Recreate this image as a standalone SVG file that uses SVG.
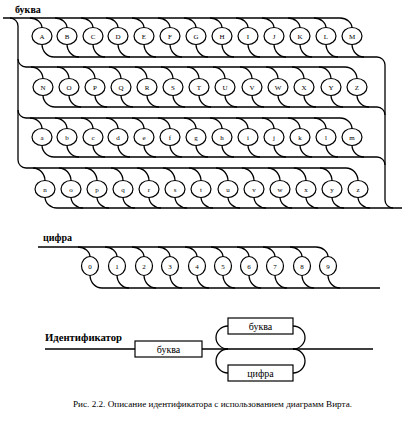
<svg xmlns="http://www.w3.org/2000/svg" width="404" height="427" viewBox="0 0 404 427">
<style>
.ln{fill:none;stroke:#000;stroke-width:1.3}
.el{fill:#fff;stroke:#000;stroke-width:1.2}
.bx{fill:#fff;stroke:#000;stroke-width:1.2}
.t{font-family:"Liberation Serif",serif;font-size:7px;text-anchor:middle;fill:#000}
.lb{font-family:"Liberation Serif",serif;font-size:10px;font-weight:bold;fill:#000}
.bt{font-family:"Liberation Serif",serif;font-size:10px;text-anchor:middle;fill:#000}
.cap{font-family:"Liberation Serif",serif;font-size:8.5px;fill:#000}
</style>
<rect width="404" height="427" fill="#fff"/>
<text class="lb" x="15" y="13">буква</text>
<text class="lb" x="43" y="241">цифра</text>
<text class="lb" x="45" y="341" textLength="77" lengthAdjust="spacingAndGlyphs">Идентификатор</text>
<text class="cap" x="73" y="407" textLength="279" lengthAdjust="spacingAndGlyphs">Рис. 2.2. Описание идентификатора с использованием диаграмм Вирта.</text>
<g id="connectors" class="ln">
<path d="M3 18H340"/>
<path d="M10 18A8 8 0 0 1 18 26V160A8 8 0 0 0 26 168H346"/>
<path d="M18 59A8 8 0 0 0 26 67H345"/>
<path d="M18 110A8 8 0 0 0 26 118H340"/>
<path d="M54 57H377A8 8 0 0 1 385 65V200A8 8 0 0 0 393 208H402"/>
<path d="M55 107H377A8 8 0 0 1 385 115"/>
<path d="M54 157H377A8 8 0 0 1 385 165"/>
<path d="M57 208H393"/>
<path d="M30 18A12 10 0 0 1 42 28M42 44A12 13 0 0 0 54 57"/>
<path d="M55 18A12 10 0 0 1 67 28M67 44A12 13 0 0 0 79 57"/>
<path d="M81 18A12 10 0 0 1 93 28M93 44A12 13 0 0 0 105 57"/>
<path d="M106 18A12 10 0 0 1 118 28M118 44A12 13 0 0 0 130 57"/>
<path d="M132 18A12 10 0 0 1 144 28M144 44A12 13 0 0 0 156 57"/>
<path d="M158 18A12 10 0 0 1 170 28M170 44A12 13 0 0 0 182 57"/>
<path d="M184 18A12 10 0 0 1 196 28M196 44A12 13 0 0 0 208 57"/>
<path d="M210 18A12 10 0 0 1 222 28M222 44A12 13 0 0 0 234 57"/>
<path d="M236 18A12 10 0 0 1 248 28M248 44A12 13 0 0 0 260 57"/>
<path d="M262 18A12 10 0 0 1 274 28M274 44A12 13 0 0 0 286 57"/>
<path d="M288 18A12 10 0 0 1 300 28M300 44A12 13 0 0 0 312 57"/>
<path d="M314 18A12 10 0 0 1 326 28M326 44A12 13 0 0 0 338 57"/>
<path d="M340 18A12 10 0 0 1 352 28M352 44A12 13 0 0 0 364 57"/>
<path d="M31 67A12 12 0 0 1 43 79M43 95A12 12 0 0 0 55 107"/>
<path d="M57 67A12 12 0 0 1 69 79M69 95A12 12 0 0 0 81 107"/>
<path d="M83 67A12 12 0 0 1 95 79M95 95A12 12 0 0 0 107 107"/>
<path d="M109 67A12 12 0 0 1 121 79M121 95A12 12 0 0 0 133 107"/>
<path d="M135 67A12 12 0 0 1 147 79M147 95A12 12 0 0 0 159 107"/>
<path d="M161 67A12 12 0 0 1 173 79M173 95A12 12 0 0 0 185 107"/>
<path d="M187 67A12 12 0 0 1 199 79M199 95A12 12 0 0 0 211 107"/>
<path d="M213 67A12 12 0 0 1 225 79M225 95A12 12 0 0 0 237 107"/>
<path d="M240 67A12 12 0 0 1 252 79M252 95A12 12 0 0 0 264 107"/>
<path d="M266 67A12 12 0 0 1 278 79M278 95A12 12 0 0 0 290 107"/>
<path d="M292 67A12 12 0 0 1 304 79M304 95A12 12 0 0 0 316 107"/>
<path d="M319 67A12 12 0 0 1 331 79M331 95A12 12 0 0 0 343 107"/>
<path d="M345 67A12 12 0 0 1 357 79M357 95A12 12 0 0 0 369 107"/>
<path d="M30 118A12 11 0 0 1 42 129M42 145A12 12 0 0 0 54 157"/>
<path d="M55 118A12 11 0 0 1 67 129M67 145A12 12 0 0 0 79 157"/>
<path d="M81 118A12 11 0 0 1 93 129M93 145A12 12 0 0 0 105 157"/>
<path d="M106 118A12 11 0 0 1 118 129M118 145A12 12 0 0 0 130 157"/>
<path d="M132 118A12 11 0 0 1 144 129M144 145A12 12 0 0 0 156 157"/>
<path d="M158 118A12 11 0 0 1 170 129M170 145A12 12 0 0 0 182 157"/>
<path d="M184 118A12 11 0 0 1 196 129M196 145A12 12 0 0 0 208 157"/>
<path d="M210 118A12 11 0 0 1 222 129M222 145A12 12 0 0 0 234 157"/>
<path d="M236 118A12 11 0 0 1 248 129M248 145A12 12 0 0 0 260 157"/>
<path d="M262 118A12 11 0 0 1 274 129M274 145A12 12 0 0 0 286 157"/>
<path d="M288 118A12 11 0 0 1 300 129M300 145A12 12 0 0 0 312 157"/>
<path d="M314 118A12 11 0 0 1 326 129M326 145A12 12 0 0 0 338 157"/>
<path d="M340 118A12 11 0 0 1 352 129M352 145A12 12 0 0 0 364 157"/>
<path d="M33 168A12 13 0 0 1 45 181M45 197A12 11 0 0 0 57 208"/>
<path d="M59 168A12 13 0 0 1 71 181M71 197A12 11 0 0 0 83 208"/>
<path d="M85 168A12 13 0 0 1 97 181M97 197A12 11 0 0 0 109 208"/>
<path d="M111 168A12 13 0 0 1 123 181M123 197A12 11 0 0 0 135 208"/>
<path d="M137 168A12 13 0 0 1 149 181M149 197A12 11 0 0 0 161 208"/>
<path d="M163 168A12 13 0 0 1 175 181M175 197A12 11 0 0 0 187 208"/>
<path d="M189 168A12 13 0 0 1 201 181M201 197A12 11 0 0 0 213 208"/>
<path d="M216 168A12 13 0 0 1 228 181M228 197A12 11 0 0 0 240 208"/>
<path d="M242 168A12 13 0 0 1 254 181M254 197A12 11 0 0 0 266 208"/>
<path d="M268 168A12 13 0 0 1 280 181M280 197A12 11 0 0 0 292 208"/>
<path d="M294 168A12 13 0 0 1 306 181M306 197A12 11 0 0 0 318 208"/>
<path d="M320 168A12 13 0 0 1 332 181M332 197A12 11 0 0 0 344 208"/>
<path d="M346 168A12 13 0 0 1 358 181M358 197A12 11 0 0 0 370 208"/>
<path d="M38 247H316"/>
<path d="M102 288H380"/>
<path d="M78 247A12 10 0 0 1 90 257M90 275A12 13 0 0 0 102 288"/>
<path d="M105 247A12 10 0 0 1 117 257M117 275A12 13 0 0 0 129 288"/>
<path d="M132 247A12 10 0 0 1 144 257M144 275A12 13 0 0 0 156 288"/>
<path d="M158 247A12 10 0 0 1 170 257M170 275A12 13 0 0 0 182 288"/>
<path d="M185 247A12 10 0 0 1 197 257M197 275A12 13 0 0 0 209 288"/>
<path d="M211 247A12 10 0 0 1 223 257M223 275A12 13 0 0 0 235 288"/>
<path d="M237 247A12 10 0 0 1 249 257M249 275A12 13 0 0 0 261 288"/>
<path d="M263 247A12 10 0 0 1 275 257M275 275A12 13 0 0 0 287 288"/>
<path d="M290 247A12 10 0 0 1 302 257M302 275A12 13 0 0 0 314 288"/>
<path d="M316 247A12 10 0 0 1 328 257M328 275A12 13 0 0 0 340 288"/>
<path d="M45 349H135M202 349H373"/>
<path d="M228 349A12 11.5 0 0 1 228 326M293 326A12 11.5 0 0 1 293 349"/>
<path d="M228 349A12 12 0 0 0 228 373M293 373A12 12 0 0 0 293 349"/>
</g>
<g id="n-A"><ellipse class="el" cx="42" cy="36" rx="10" ry="8.5"/><text class="t" x="42" y="38.5">A</text></g>
<g id="n-B"><ellipse class="el" cx="67" cy="36" rx="10" ry="8.5"/><text class="t" x="67" y="38.5">B</text></g>
<g id="n-C"><ellipse class="el" cx="93" cy="36" rx="10" ry="8.5"/><text class="t" x="93" y="38.5">C</text></g>
<g id="n-D"><ellipse class="el" cx="118" cy="36" rx="10" ry="8.5"/><text class="t" x="118" y="38.5">D</text></g>
<g id="n-E"><ellipse class="el" cx="144" cy="36" rx="10" ry="8.5"/><text class="t" x="144" y="38.5">E</text></g>
<g id="n-F"><ellipse class="el" cx="170" cy="36" rx="10" ry="8.5"/><text class="t" x="170" y="38.5">F</text></g>
<g id="n-G"><ellipse class="el" cx="196" cy="36" rx="10" ry="8.5"/><text class="t" x="196" y="38.5">G</text></g>
<g id="n-H"><ellipse class="el" cx="222" cy="36" rx="10" ry="8.5"/><text class="t" x="222" y="38.5">H</text></g>
<g id="n-I"><ellipse class="el" cx="248" cy="36" rx="10" ry="8.5"/><text class="t" x="248" y="38.5">I</text></g>
<g id="n-J"><ellipse class="el" cx="274" cy="36" rx="10" ry="8.5"/><text class="t" x="274" y="38.5">J</text></g>
<g id="n-K"><ellipse class="el" cx="300" cy="36" rx="10" ry="8.5"/><text class="t" x="300" y="38.5">K</text></g>
<g id="n-L"><ellipse class="el" cx="326" cy="36" rx="10" ry="8.5"/><text class="t" x="326" y="38.5">L</text></g>
<g id="n-M"><ellipse class="el" cx="352" cy="36" rx="10" ry="8.5"/><text class="t" x="352" y="38.5">M</text></g>
<g id="n-N"><ellipse class="el" cx="43" cy="87" rx="10" ry="8.5"/><text class="t" x="43" y="89.5">N</text></g>
<g id="n-O"><ellipse class="el" cx="69" cy="87" rx="10" ry="8.5"/><text class="t" x="69" y="89.5">O</text></g>
<g id="n-P"><ellipse class="el" cx="95" cy="87" rx="10" ry="8.5"/><text class="t" x="95" y="89.5">P</text></g>
<g id="n-Q"><ellipse class="el" cx="121" cy="87" rx="10" ry="8.5"/><text class="t" x="121" y="89.5">Q</text></g>
<g id="n-R"><ellipse class="el" cx="147" cy="87" rx="10" ry="8.5"/><text class="t" x="147" y="89.5">R</text></g>
<g id="n-S"><ellipse class="el" cx="173" cy="87" rx="10" ry="8.5"/><text class="t" x="173" y="89.5">S</text></g>
<g id="n-T"><ellipse class="el" cx="199" cy="87" rx="10" ry="8.5"/><text class="t" x="199" y="89.5">T</text></g>
<g id="n-U"><ellipse class="el" cx="225" cy="87" rx="10" ry="8.5"/><text class="t" x="225" y="89.5">U</text></g>
<g id="n-V"><ellipse class="el" cx="252" cy="87" rx="10" ry="8.5"/><text class="t" x="252" y="89.5">V</text></g>
<g id="n-W"><ellipse class="el" cx="278" cy="87" rx="10" ry="8.5"/><text class="t" x="278" y="89.5">W</text></g>
<g id="n-X"><ellipse class="el" cx="304" cy="87" rx="10" ry="8.5"/><text class="t" x="304" y="89.5">X</text></g>
<g id="n-Y"><ellipse class="el" cx="331" cy="87" rx="10" ry="8.5"/><text class="t" x="331" y="89.5">Y</text></g>
<g id="n-Z"><ellipse class="el" cx="357" cy="87" rx="10" ry="8.5"/><text class="t" x="357" y="89.5">Z</text></g>
<g id="n-a"><ellipse class="el" cx="42" cy="137" rx="10" ry="8.5"/><text class="t" x="42" y="139.5">a</text></g>
<g id="n-b"><ellipse class="el" cx="67" cy="137" rx="10" ry="8.5"/><text class="t" x="67" y="139.5">b</text></g>
<g id="n-c"><ellipse class="el" cx="93" cy="137" rx="10" ry="8.5"/><text class="t" x="93" y="139.5">c</text></g>
<g id="n-d"><ellipse class="el" cx="118" cy="137" rx="10" ry="8.5"/><text class="t" x="118" y="139.5">d</text></g>
<g id="n-e"><ellipse class="el" cx="144" cy="137" rx="10" ry="8.5"/><text class="t" x="144" y="139.5">e</text></g>
<g id="n-f"><ellipse class="el" cx="170" cy="137" rx="10" ry="8.5"/><text class="t" x="170" y="139.5">f</text></g>
<g id="n-g"><ellipse class="el" cx="196" cy="137" rx="10" ry="8.5"/><text class="t" x="196" y="139.5">g</text></g>
<g id="n-h"><ellipse class="el" cx="222" cy="137" rx="10" ry="8.5"/><text class="t" x="222" y="139.5">h</text></g>
<g id="n-i"><ellipse class="el" cx="248" cy="137" rx="10" ry="8.5"/><text class="t" x="248" y="139.5">i</text></g>
<g id="n-j"><ellipse class="el" cx="274" cy="137" rx="10" ry="8.5"/><text class="t" x="274" y="139.5">j</text></g>
<g id="n-k"><ellipse class="el" cx="300" cy="137" rx="10" ry="8.5"/><text class="t" x="300" y="139.5">k</text></g>
<g id="n-l"><ellipse class="el" cx="326" cy="137" rx="10" ry="8.5"/><text class="t" x="326" y="139.5">l</text></g>
<g id="n-m"><ellipse class="el" cx="352" cy="137" rx="10" ry="8.5"/><text class="t" x="352" y="139.5">m</text></g>
<g id="n-n"><ellipse class="el" cx="45" cy="189" rx="10" ry="8.5"/><text class="t" x="45" y="191.5">n</text></g>
<g id="n-o"><ellipse class="el" cx="71" cy="189" rx="10" ry="8.5"/><text class="t" x="71" y="191.5">o</text></g>
<g id="n-p"><ellipse class="el" cx="97" cy="189" rx="10" ry="8.5"/><text class="t" x="97" y="191.5">p</text></g>
<g id="n-q"><ellipse class="el" cx="123" cy="189" rx="10" ry="8.5"/><text class="t" x="123" y="191.5">q</text></g>
<g id="n-r"><ellipse class="el" cx="149" cy="189" rx="10" ry="8.5"/><text class="t" x="149" y="191.5">r</text></g>
<g id="n-s"><ellipse class="el" cx="175" cy="189" rx="10" ry="8.5"/><text class="t" x="175" y="191.5">s</text></g>
<g id="n-t"><ellipse class="el" cx="201" cy="189" rx="10" ry="8.5"/><text class="t" x="201" y="191.5">t</text></g>
<g id="n-u"><ellipse class="el" cx="228" cy="189" rx="10" ry="8.5"/><text class="t" x="228" y="191.5">u</text></g>
<g id="n-v"><ellipse class="el" cx="254" cy="189" rx="10" ry="8.5"/><text class="t" x="254" y="191.5">v</text></g>
<g id="n-w"><ellipse class="el" cx="280" cy="189" rx="10" ry="8.5"/><text class="t" x="280" y="191.5">w</text></g>
<g id="n-x"><ellipse class="el" cx="306" cy="189" rx="10" ry="8.5"/><text class="t" x="306" y="191.5">x</text></g>
<g id="n-y"><ellipse class="el" cx="332" cy="189" rx="10" ry="8.5"/><text class="t" x="332" y="191.5">y</text></g>
<g id="n-z"><ellipse class="el" cx="358" cy="189" rx="10" ry="8.5"/><text class="t" x="358" y="191.5">z</text></g>
<g id="n-0"><ellipse class="el" cx="90" cy="266" rx="8.5" ry="9.5"/><text class="t" x="90" y="268.5">0</text></g>
<g id="n-1"><ellipse class="el" cx="117" cy="266" rx="8.5" ry="9.5"/><text class="t" x="117" y="268.5">1</text></g>
<g id="n-2"><ellipse class="el" cx="144" cy="266" rx="8.5" ry="9.5"/><text class="t" x="144" y="268.5">2</text></g>
<g id="n-3"><ellipse class="el" cx="170" cy="266" rx="8.5" ry="9.5"/><text class="t" x="170" y="268.5">3</text></g>
<g id="n-4"><ellipse class="el" cx="197" cy="266" rx="8.5" ry="9.5"/><text class="t" x="197" y="268.5">4</text></g>
<g id="n-5"><ellipse class="el" cx="223" cy="266" rx="8.5" ry="9.5"/><text class="t" x="223" y="268.5">5</text></g>
<g id="n-6"><ellipse class="el" cx="249" cy="266" rx="8.5" ry="9.5"/><text class="t" x="249" y="268.5">6</text></g>
<g id="n-7"><ellipse class="el" cx="275" cy="266" rx="8.5" ry="9.5"/><text class="t" x="275" y="268.5">7</text></g>
<g id="n-8"><ellipse class="el" cx="302" cy="266" rx="8.5" ry="9.5"/><text class="t" x="302" y="268.5">8</text></g>
<g id="n-9"><ellipse class="el" cx="328" cy="266" rx="8.5" ry="9.5"/><text class="t" x="328" y="268.5">9</text></g>
<g id="box-bukva1"><rect class="bx" x="135" y="341" width="67" height="16"/><text class="bt" x="168.5" y="352.5">буква</text></g>
<g id="box-bukva2"><rect class="bx" x="228" y="318" width="65" height="16"/><text class="bt" x="260.5" y="329.5">буква</text></g>
<g id="box-cifra"><rect class="bx" x="228" y="365" width="65" height="16"/><text class="bt" x="260.5" y="376.5">цифра</text></g>
</svg>
